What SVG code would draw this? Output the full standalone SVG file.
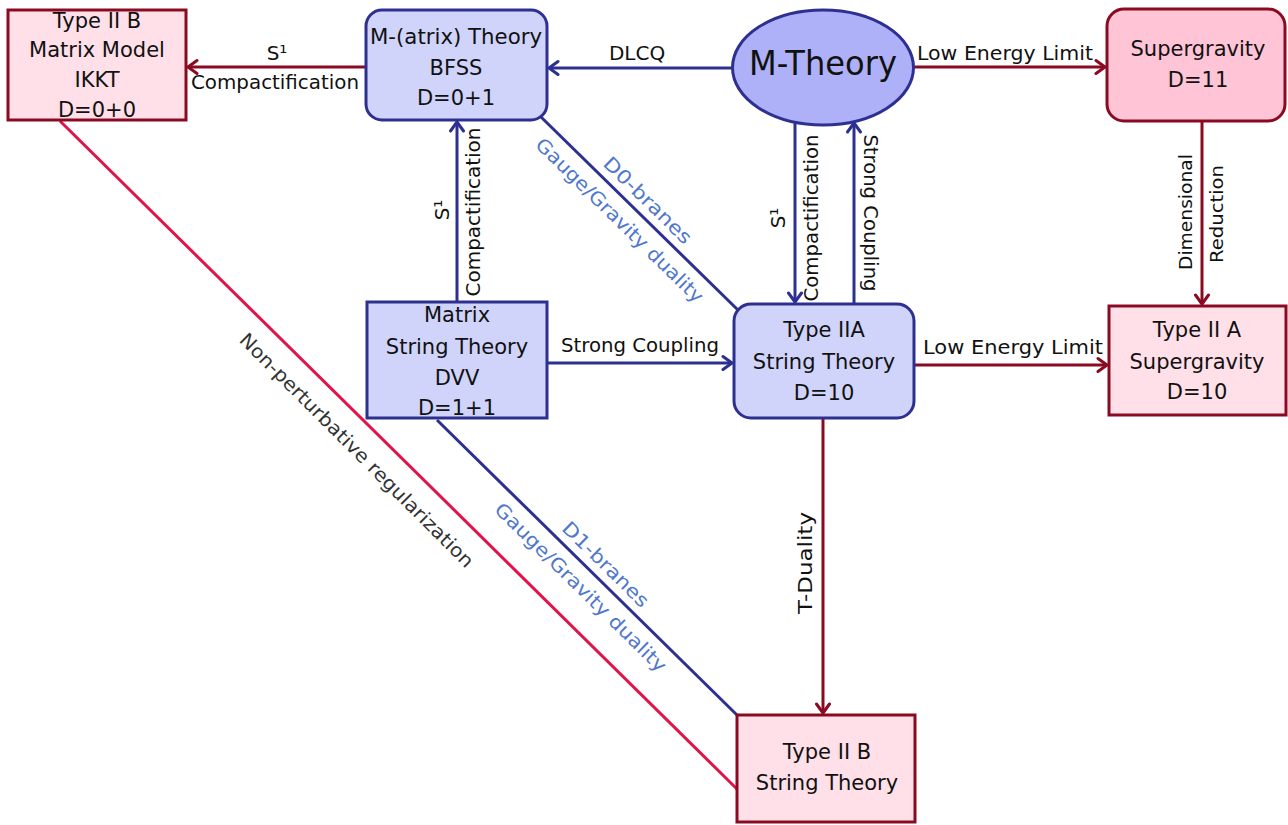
<svg xmlns="http://www.w3.org/2000/svg" width="1288" height="825" viewBox="0 0 1288 825">
<defs>
<marker id="ahN" viewBox="-12 -9 14 18" refX="0" refY="0" markerWidth="14" markerHeight="18" markerUnits="userSpaceOnUse" orient="auto">
<path d="M-9,-6.5 L0,0 L-9,6.5" fill="none" stroke="#2d3090" stroke-width="3" stroke-linecap="round" stroke-linejoin="round"/>
</marker>
<marker id="ahR" viewBox="-12 -9 14 18" refX="0" refY="0" markerWidth="14" markerHeight="18" markerUnits="userSpaceOnUse" orient="auto">
<path d="M-9,-6.5 L0,0 L-9,6.5" fill="none" stroke="#8a0a22" stroke-width="3" stroke-linecap="round" stroke-linejoin="round"/>
</marker>
</defs>
<style>
text{font-family:"DejaVu Sans","Noto Sans",sans-serif;fill:#111;text-anchor:middle;dominant-baseline:central;font-size:20px}
.nb{fill:#d0d4fa;stroke:#2d3090;stroke-width:3}
.np{fill:#ffe0e8;stroke:#8a0a22;stroke-width:3}
.ns{fill:#ffc4d6;stroke:#8a0a22;stroke-width:3}
.nt{font-size:21px}
.en{stroke:#2d3090;stroke-width:3;fill:none}
.er{stroke:#8a0a22;stroke-width:3;fill:none}
.ec{stroke:#e0144c;stroke-width:3;fill:none}
.lb{fill:#5078cc;font-size:19px}
.lg{fill:#333;font-size:19px}
.sm{font-size:18px}
</style>
<rect width="1288" height="825" fill="#ffffff"/>
<g id="connectors">
<line class="er" x1="366" y1="67" x2="188" y2="67" marker-end="url(#ahR)"/>
<line class="en" x1="733" y1="68" x2="549" y2="68" marker-end="url(#ahN)"/>
<line class="er" x1="914" y1="67" x2="1105" y2="67" marker-end="url(#ahR)"/>
<line class="er" x1="1202" y1="121" x2="1202" y2="304" marker-end="url(#ahR)"/>
<line class="er" x1="914" y1="365" x2="1107" y2="365" marker-end="url(#ahR)"/>
<line class="en" x1="547" y1="363" x2="732" y2="363" marker-end="url(#ahN)"/>
<line class="en" x1="457" y1="302" x2="457" y2="122" marker-end="url(#ahN)"/>
<line class="en" x1="541" y1="117" x2="740" y2="312"/>
<line class="en" x1="795" y1="122" x2="795" y2="302" marker-end="url(#ahN)"/>
<line class="en" x1="854" y1="304" x2="854" y2="123" marker-end="url(#ahN)"/>
<line class="er" x1="823" y1="418" x2="823" y2="713" marker-end="url(#ahR)"/>
<line class="en" x1="437" y1="420" x2="738" y2="716"/>
<line class="ec" x1="60" y1="121" x2="738" y2="790"/>
<text x="277" y="53">S¹</text>
<text x="275" y="82" textLength="168" lengthAdjust="spacingAndGlyphs">Compactification</text>
<text x="637" y="53">DLCQ</text>
<text x="1005" y="53" textLength="176" lengthAdjust="spacingAndGlyphs">Low Energy Limit</text>
<text x="1013" y="347" textLength="180" lengthAdjust="spacingAndGlyphs">Low Energy Limit</text>
<text x="640" y="345" textLength="158" lengthAdjust="spacingAndGlyphs">Strong Coupling</text>
<text class="sm" x="1185" y="212" transform="rotate(-90 1185 212)" textLength="116" lengthAdjust="spacingAndGlyphs">Dimensional</text>
<text class="sm" x="1216" y="214" transform="rotate(-90 1216 214)" textLength="98" lengthAdjust="spacingAndGlyphs">Reduction</text>
<text x="442" y="210" transform="rotate(-90 442 210)">S¹</text>
<text x="473" y="212" transform="rotate(-90 473 212)" textLength="169" lengthAdjust="spacingAndGlyphs">Compactification</text>
<text x="778" y="218" transform="rotate(-90 778 218)">S¹</text>
<text x="811" y="218" transform="rotate(-90 811 218)" textLength="167" lengthAdjust="spacingAndGlyphs">Compactification</text>
<text x="871" y="213" transform="rotate(90 871 213)" textLength="157" lengthAdjust="spacingAndGlyphs">Strong Coupling</text>
<text x="805" y="563" transform="rotate(-90 805 563)" textLength="102" lengthAdjust="spacingAndGlyphs">T-Duality</text>
<text class="lb" x="648" y="200" transform="rotate(44.4 648 200)" textLength="115" lengthAdjust="spacingAndGlyphs">D0-branes</text>
<text class="lb" x="620" y="220" transform="rotate(44.4 620 220)" textLength="226" lengthAdjust="spacingAndGlyphs">Gauge/Gravity duality</text>
<text class="lb" x="606" y="564" transform="rotate(44.5 606 564)" textLength="113" lengthAdjust="spacingAndGlyphs">D1-branes</text>
<text class="lb" x="581" y="587" transform="rotate(44.5 581 587)" textLength="232" lengthAdjust="spacingAndGlyphs">Gauge/Gravity duality</text>
<text class="lg" x="357" y="450" transform="rotate(45 357 450)" textLength="322" lengthAdjust="spacingAndGlyphs">Non-perturbative regularization</text>
</g>
<g id="iib-matrix">
<rect class="np" x="8" y="10" width="178" height="110"/>
<text class="nt" x="97" y="21">Type II B</text>
<text class="nt" x="97" y="50">Matrix Model</text>
<text class="nt" x="97" y="80">IKKT</text>
<text class="nt" x="97" y="110">D=0+0</text>
</g>
<g id="m-atrix">
<rect class="nb" x="366" y="10" width="181" height="110" rx="16"/>
<text class="nt" x="456" y="37" textLength="172" lengthAdjust="spacingAndGlyphs">M-(atrix) Theory</text>
<text class="nt" x="456" y="68">BFSS</text>
<text class="nt" x="456" y="98">D=0+1</text>
</g>
<g id="m-theory">
<ellipse cx="823" cy="67.5" rx="90.5" ry="57.5" fill="#aeb1f7" stroke="#2d3090" stroke-width="3"/>
<text x="823" y="63" style="font-size:34px" textLength="148" lengthAdjust="spacingAndGlyphs">M-Theory</text>
</g>
<g id="supergravity">
<rect class="ns" x="1107" y="9" width="178" height="112" rx="17"/>
<text class="nt" x="1198" y="49">Supergravity</text>
<text class="nt" x="1198" y="80">D=11</text>
</g>
<g id="matrix-string">
<rect class="nb" x="367" y="302" width="180" height="116"/>
<text class="nt" x="457" y="315">Matrix</text>
<text class="nt" x="457" y="347">String Theory</text>
<text class="nt" x="457" y="378">DVV</text>
<text class="nt" x="457" y="408">D=1+1</text>
</g>
<g id="iia-string">
<rect class="nb" x="734" y="304" width="180" height="114" rx="17"/>
<text class="nt" x="824" y="330">Type IIA</text>
<text class="nt" x="824" y="362">String Theory</text>
<text class="nt" x="824" y="393">D=10</text>
</g>
<g id="iia-sugra">
<rect class="np" x="1109" y="306" width="177" height="109"/>
<text class="nt" x="1197" y="330">Type II A</text>
<text class="nt" x="1197" y="362">Supergravity</text>
<text class="nt" x="1197" y="392">D=10</text>
</g>
<g id="iib-string">
<rect class="np" x="737" y="715" width="178" height="107"/>
<text class="nt" x="827" y="752">Type II B</text>
<text class="nt" x="827" y="783">String Theory</text>
</g>
</svg>
